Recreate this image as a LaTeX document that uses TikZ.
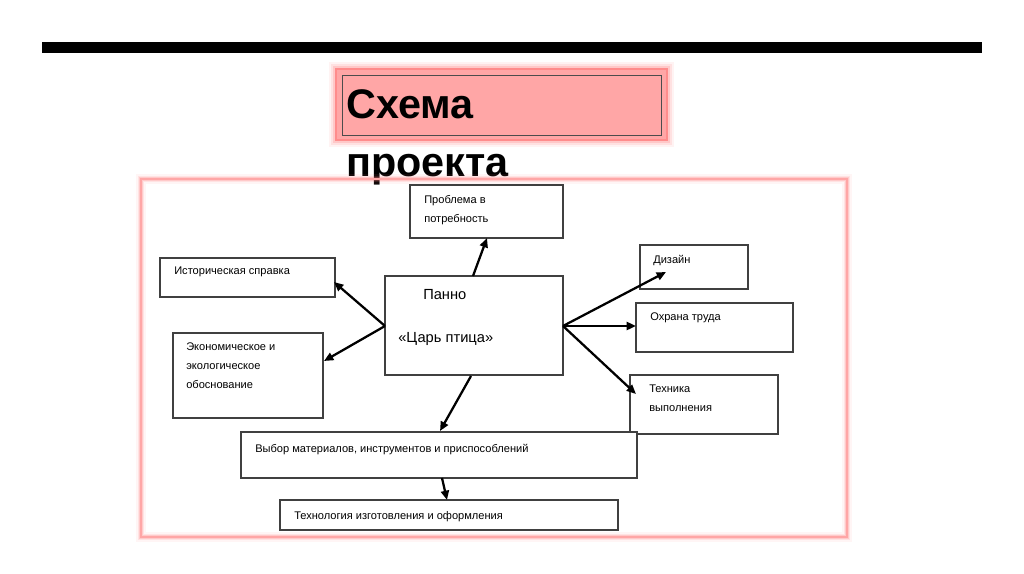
\documentclass[tikz,border=0pt]{standalone}
\usepackage{fontspec}
\setmainfont{Liberation Sans}
\usetikzlibrary{arrows.meta}
\begin{document}
\begin{tikzpicture}[x=0.75pt,y=-0.75pt,
  bx/.style={draw=black!75,line width=0.8pt,fill=white},
  tx/.style={anchor=north west,font=\fontsize{8.3}{14}\selectfont,align=left,inner sep=0pt},
  ar/.style={-{Triangle[length=7pt,width=6pt]},line width=1.7pt}]
\useasboundingbox (0,0) rectangle (1024,574);
\fill[white] (0,0) rectangle (1024,574);
\fill[black] (42,42) rectangle (982,53);
% title
\foreach \w/\o in {10/0.08,7/0.12,4/0.2,2/0.3}
  \draw[red!60,line width=\w pt,opacity=\o] (336,69) rectangle (667,140);
\draw[fill=red!25!pink!80!white,draw=red!45,line width=1.5pt] (336,69) rectangle (667,140);
\draw[black!70,line width=0.6pt] (342,75) rectangle (661,135);
\node[anchor=north west,align=left,font=\bfseries\fontsize{31}{44}\selectfont,inner sep=0pt] (title) at (346,89) {Схема\\проекта};
% frame
\foreach \w/\o in {8/0.08,5/0.15,3/0.25}
  \draw[red!50,line width=\w pt,opacity=\o] (141,179) rectangle (847,537);
\draw[red!35,line width=2pt] (141,179) rectangle (847,537);
% boxes
\draw[bx] (410,185) rectangle (563,238) coordinate (pb);
\node[tx] at (424,195) {Проблема в\\потребность};
\draw[bx] (160,258) rectangle (335,297);
\node[tx] at (174,267) {Историческая справка};
\draw[bx] (385,276) rectangle (563,375);
\node[anchor=north west,inner sep=0pt,font=\fontsize{11}{13}\selectfont] (c1) at (423,289) {Панно};
\node[anchor=north west,inner sep=0pt,font=\fontsize{11}{13}\selectfont] (c2) at (398,332) {«Царь птица»};
\draw[bx] (173,333) rectangle (323,418);
\node[tx] at (186,343) {Экономическое и\\экологическое\\обоснование};
\draw[bx] (640,245) rectangle (748,289);
\node[tx] at (653,255) {Дизайн};
\draw[bx] (636,303) rectangle (793,352);
\node[tx] at (650,313) {Охрана труда};
\draw[bx] (630,375) rectangle (778,434);
\node[tx] at (649,385) {Техника\\выполнения};
\draw[bx] (241,432) rectangle (637,478);
\node[tx] at (255,444) {Выбор материалов, инструментов и приспособлений};
\draw[bx] (280,500) rectangle (618,530);
\node[tx] at (294,511) {Технология изготовления и оформления};
% arrows
\coordinate (cl) at (385,326); \coordinate (cr) at (563,326);
\draw[ar] (473,276) -- (487,238);
\draw[ar] (cl) -- (334,282);
\draw[ar] (cl) -- (324,361);
\draw[ar] (cr) -- (666,272);
\draw[ar] (cr) -- (636,326);
\draw[ar] (cr) -- (636,394);
\draw[ar] (471,376) -- (440,431);
\draw[ar] (442,478) -- (447,500);
\end{tikzpicture}
\end{document}
